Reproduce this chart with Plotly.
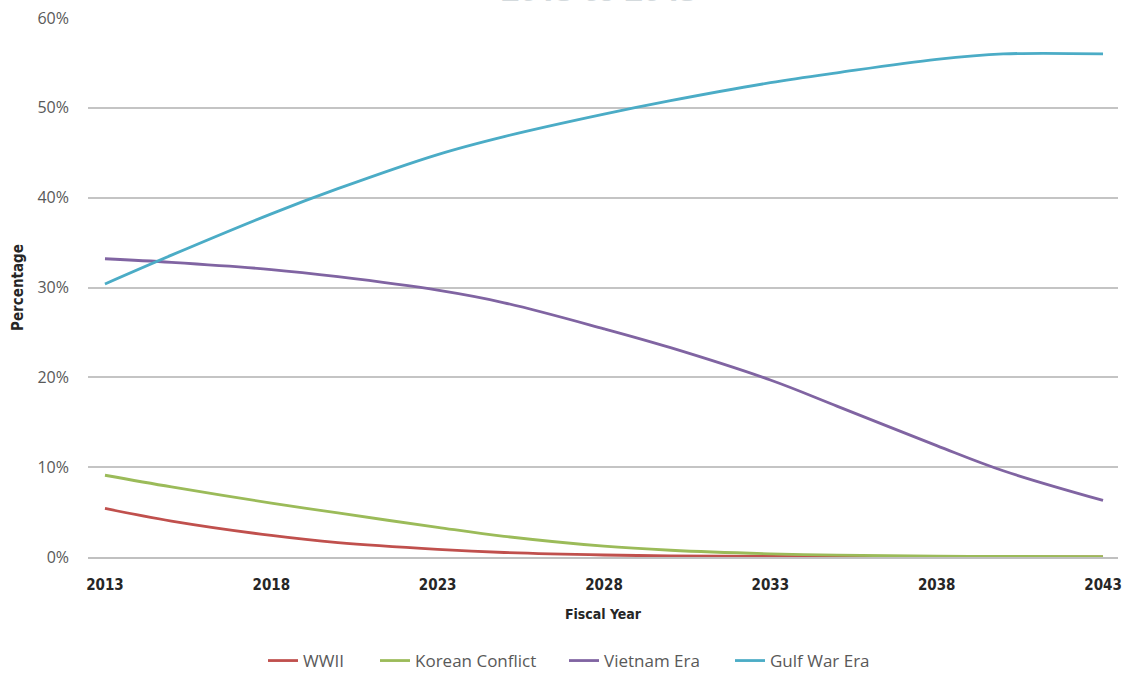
import plotly.graph_objects as go

years = [2013, 2015, 2018, 2020, 2023, 2025, 2028, 2030, 2033, 2035, 2038, 2040, 2043]
wwii = [5.4, 4.0, 2.4, 1.6, 0.85, 0.5, 0.22, 0.13, 0.06, 0.04, 0.02, 0.01, 0.0]
korean = [9.1, 7.8, 6.0, 4.9, 3.3, 2.3, 1.2, 0.75, 0.35, 0.2, 0.1, 0.06, 0.03]
vietnam = [33.2, 32.8, 32.0, 31.2, 29.7, 28.3, 25.4, 23.3, 19.7, 16.8, 12.4, 9.6, 6.3]
gulf = [30.4, 33.6, 38.2, 41.0, 44.8, 46.8, 49.3, 50.8, 52.8, 53.9, 55.4, 56.0, 56.0]

series_names = ["WWII", "Korean Conflict", "Vietnam Era", "Gulf War Era"]
series_colors = ["#C0504D", "#9BBB59", "#8064A2", "#4BACC6"]
series_values = [wwii, korean, vietnam, gulf]

tick_years = [2013, 2018, 2023, 2028, 2033, 2038, 2043]
tick_pcts = [0, 10, 20, 30, 40, 50, 60]

# left edge (px) of each legend entry box
legend_left_px = [263, 375, 564, 730]
legend_ids = ["legend", "legend2", "legend3", "legend4"]

W, H = 1122, 673

fig = go.Figure()
for name, color, vals, lid in zip(series_names, series_colors, series_values, legend_ids):
    fig.add_trace(go.Scatter(
        x=years, y=[v / 100 for v in vals], name=name, mode="lines",
        line=dict(color=color, width=2.8, shape="spline", smoothing=1.0),
        legend=lid,
    ))

legend_layouts = {}
for lid, lx in zip(legend_ids, legend_left_px):
    legend_layouts[lid] = dict(
        orientation="h", xref="container", yref="container",
        x=lx / W, xanchor="left", y=(H - 661) / H, yanchor="middle",
        font=dict(size=17, color="#595959", family="Open Sans"),
        itemwidth=30, bgcolor="rgba(0,0,0,0)",
    )

fig.update_layout(
    width=W, height=H,
    paper_bgcolor="white", plot_bgcolor="white",
    margin=dict(l=88, r=4, t=18, b=116, autoexpand=False),
    font=dict(family="Open Sans", color="#595959"),
    showlegend=True,
    annotations=[dict(text="<b>2013 to 2043</b>", xref="paper", yref="paper",
                      x=0.497, y=1.012, xanchor="center", yanchor="bottom",
                      showarrow=False, font=dict(size=32, color="#d4dadd", family="Open Sans"))],
    **legend_layouts,
)
fig.update_xaxes(
    range=[2012.49, 2043.45], tickvals=tick_years, ticktext=[f"<b>{t}</b>" for t in tick_years],
    showgrid=False, showline=True, linecolor="#c0c0c0", linewidth=1.5,
    zeroline=False, ticks="", ticklabelstandoff=13, ticklabeloverflow="allow",
    tickfont=dict(size=15, color="#262626", family="DejaVu Sans Condensed"),
    title=dict(text="<b>Fiscal Year</b>", standoff=16,
               font=dict(size=14, color="#262626", family="DejaVu Sans Condensed")),
)
fig.update_yaxes(
    range=[0, 0.6], tickvals=[p / 100 for p in tick_pcts], ticktext=[f"{p}%" for p in tick_pcts],
    showgrid=True, gridcolor="#c4c4c4", gridwidth=1.5, zeroline=False,
    ticks="", ticklabelstandoff=18, ticklabeloverflow="allow",
    tickfont=dict(size=16, color="#595959", family="Open Sans"),
    title=dict(text="<b>Percentage</b>", standoff=10,
               font=dict(size=15, color="#262626", family="DejaVu Sans Condensed")),
)

fig.write_html("out.html", config={"displayModeBar": False},
               post_script="document.body.style.margin='0';")
